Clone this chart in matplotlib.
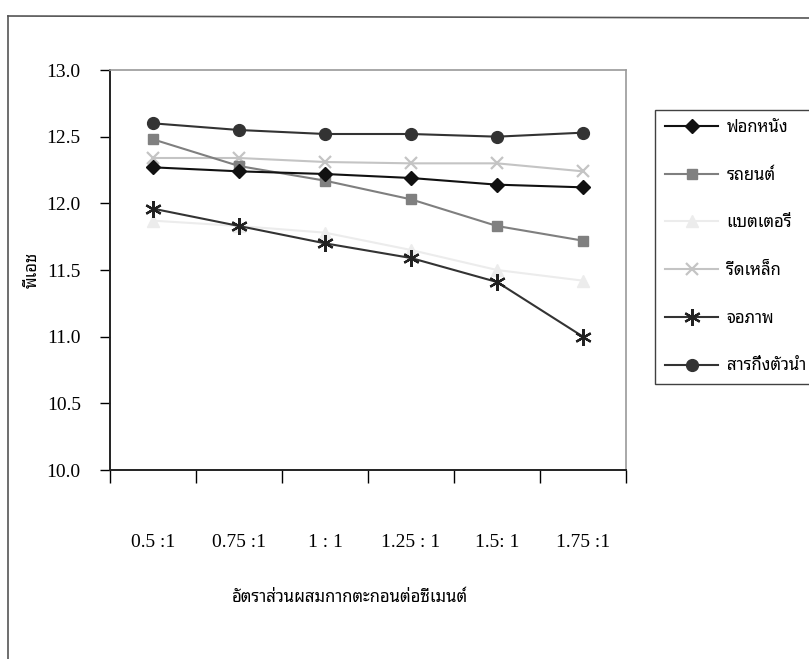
import numpy as np
import matplotlib
matplotlib.use("Agg")
import matplotlib.pyplot as plt
from matplotlib.lines import Line2D

# pH of each waste type vs. sludge : cement mix ratio
ratios = ['0.5 :1', '0.75 :1', '1 : 1', '1.25 : 1', '1.5: 1', '1.75 :1']
tanning = [12.27, 12.24, 12.22, 12.19, 12.14, 12.12]
automotive = [12.48, 12.28, 12.17, 12.03, 11.83, 11.72]
battery = [11.87, 11.83, 11.78, 11.65, 11.50, 11.42]
steel = [12.34, 12.34, 12.31, 12.30, 12.30, 12.24]
display = [11.96, 11.83, 11.70, 11.59, 11.41, 11.00]
semiconductor = [12.60, 12.55, 12.52, 12.52, 12.50, 12.53]

names = ['ฟอกหนัง', 'รถยนต์', 'แบตเตอรี่', 'รีดเหล็ก', 'จอภาพ', 'สารกึ่งตัวนำ']
y_ticks = [10.0, 10.5, 11.0, 11.5, 12.0, 12.5, 13.0]

thai = ['Noto Sans Thai Looped', 'DejaVu Sans']
serif = 'Liberation Serif'

W, H = 809, 659
fig = plt.figure(figsize=(W / 100, H / 100), dpi=100)
ax = fig.add_axes([110 / W, 1 - 470 / H, 516 / W, 400 / H])

x = np.arange(len(ratios))
styles = [
    dict(color='#111111', marker='D', ms=7, mfc='#111111', mec='#111111'),
    dict(color='#7f7f7f', marker='s', ms=7.5, mfc='#808080', mec='#808080'),
    dict(color='#ececec', marker='^', ms=8, mfc='#ececec', mec='#ececec'),
    dict(color='#c4c4c4', marker='x', ms=9, mew=1.6, mfc='#c4c4c4', mec='#c4c4c4'),
    dict(color='#333333', marker=(6, 2, 0), ms=12, mew=1.6, mfc='#222222', mec='#222222'),
    dict(color='#333333', marker='o', ms=8.5, mfc='#333333', mec='#333333'),
]
series = [tanning, automotive, battery, steel, display, semiconductor]
# lighter series first so the dark ones sit on top
order = [2, 3, 1, 0, 4, 5]
handles = {}
for i in order:
    handles[i], = ax.plot(x, series[i], lw=1.5, label=names[i], **styles[i])

ax.set_xlim(-0.5, len(ratios) - 0.5)
ax.set_ylim(10.0, 13.0)
ax.set_yticks(y_ticks)
ax.set_yticklabels(['%.1f' % v for v in y_ticks], fontsize=14, family=serif)
ax.tick_params(axis='y', direction='out', length=7, width=1, pad=14)

ax.set_xticks(x)
ax.set_xticklabels(ratios, fontsize=14, family=serif)
ax.set_xticks(np.arange(-0.5, len(ratios)), minor=True)
ax.tick_params(axis='x', which='major', length=0, pad=46)
ax.tick_params(axis='x', which='minor', direction='out', length=9, width=1)

for s in ['left', 'bottom']:
    ax.spines[s].set_linewidth(1.4)
    ax.spines[s].set_color('#222222')
for s in ['top', 'right']:
    ax.spines[s].set_linewidth(1.2)
    ax.spines[s].set_color('#9a9a9a')

fig.text(350 / W, 1 - 598 / H, 'อัตราส่วนผสมกากตะกอนต่อซีเมนต์', ha='center', va='center',
         fontsize=12, family=thai)
fig.text(33 / W, 1 - 270 / H, 'พีเอช', rotation=90, ha='center', va='center',
         fontsize=12, family=thai)

leg = fig.legend([handles[i] for i in range(6)], names, loc='upper left',
                 bbox_to_anchor=(655 / W, 1 - 110 / H), frameon=True, fancybox=False,
                 edgecolor='#111111', borderaxespad=0, handlelength=3.2,
                 labelspacing=1.9, borderpad=0.6, handletextpad=0.5,
                 prop={'family': thai, 'size': 12})
leg.get_frame().set_linewidth(1.0)

# outer chart border
fig.add_artist(Line2D([8 / W, 1], [1 - 16 / H, 1 - 18 / H], transform=fig.transFigure,
                      color='#555555', lw=1.2))
fig.add_artist(Line2D([8 / W, 8 / W], [1 - 16 / H, 0], transform=fig.transFigure,
                      color='#555555', lw=1.2))

fig.savefig('out.png', dpi=100)
